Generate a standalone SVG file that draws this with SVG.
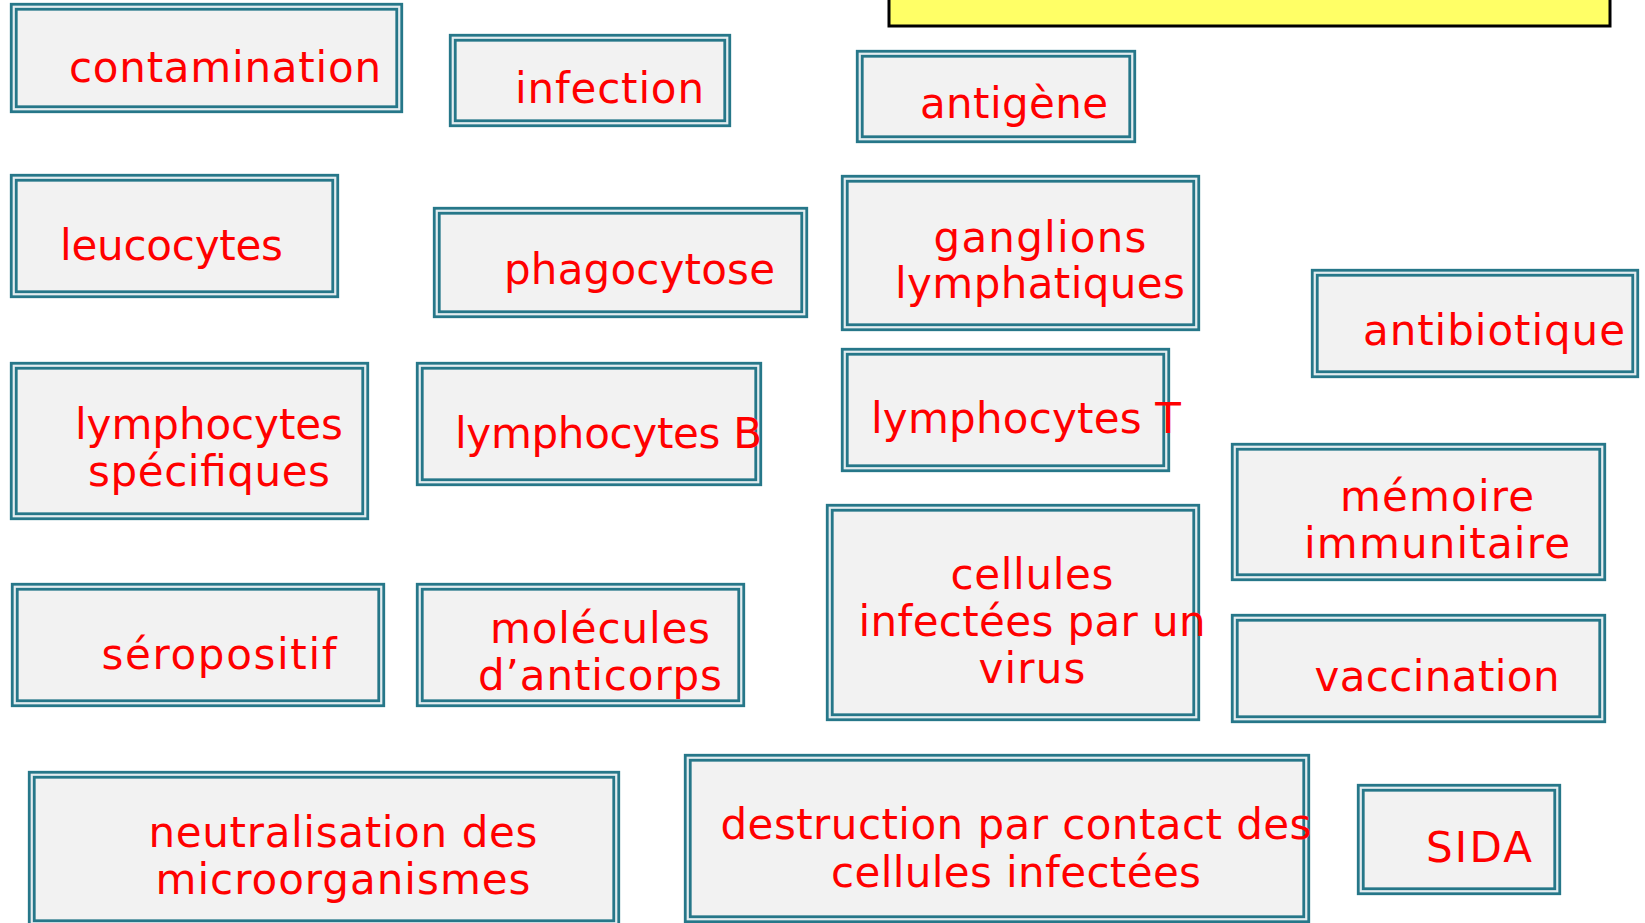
<svg xmlns="http://www.w3.org/2000/svg" width="1645" height="923" viewBox="0 0 1645 923">
<style>
.o{fill:#e4edf0;stroke:#267789;stroke-width:2.8}
.i{fill:#f2f2f2;stroke:#267789;stroke-width:2.8}
.t{font-family:"DejaVu Sans","Verdana",sans-serif;font-size:42px;fill:#ff0000;text-anchor:middle}
.s{text-anchor:start}
</style>
<rect width="1645" height="923" fill="#ffffff"/>
<g id="title-bar"><rect x="889" y="-5" width="721" height="31" fill="#ffff66" stroke="#000000" stroke-width="3"/></g>
<g id="connectors"></g>
<g id="contamination"><rect class="o" x="11.25" y="4.25" width="390.5" height="107.5"/><rect class="i" x="16.25" y="9.25" width="380.5" height="97.5"/><text class="t" x="225" y="82" textLength="312" lengthAdjust="spacing">contamination</text></g>
<g id="infection"><rect class="o" x="450.25" y="35.25" width="279.5" height="90.5"/><rect class="i" x="455.25" y="40.25" width="269.5" height="80.5"/><text class="t" x="609.5" y="103" textLength="189" lengthAdjust="spacing">infection</text></g>
<g id="antigene"><rect class="o" x="857.25" y="51.25" width="277.5" height="90.5"/><rect class="i" x="862.25" y="56.25" width="267.5" height="80.5"/><text class="t" x="1014" y="118" textLength="188" lengthAdjust="spacing">antigène</text></g>
<g id="leucocytes"><rect class="o" x="11.25" y="175.25" width="326.5" height="121.5"/><rect class="i" x="16.25" y="180.25" width="316.5" height="111.5"/><text class="t" x="171.5" y="260" textLength="223" lengthAdjust="spacing">leucocytes</text></g>
<g id="phagocytose"><rect class="o" x="434.25" y="208.25" width="372.5" height="108.5"/><rect class="i" x="439.25" y="213.25" width="362.5" height="98.5"/><text class="t" x="639.5" y="284" textLength="271" lengthAdjust="spacing">phagocytose</text></g>
<g id="ganglions"><rect class="o" x="842.25" y="176.25" width="356.5" height="153.5"/><rect class="i" x="847.25" y="181.25" width="346.5" height="143.5"/><text class="t" x="1040" y="252" textLength="213" lengthAdjust="spacing">ganglions</text><text class="t" x="1040" y="298" textLength="290" lengthAdjust="spacing">lymphatiques</text></g>
<g id="antibiotique"><rect class="o" x="1312.25" y="270.25" width="325.5" height="106.5"/><rect class="i" x="1317.25" y="275.25" width="315.5" height="96.5"/><text class="t" x="1494" y="345" textLength="262" lengthAdjust="spacing">antibiotique</text></g>
<g id="lymphocytes-specifiques"><rect class="o" x="11.25" y="363.25" width="356.5" height="155.5"/><rect class="i" x="16.25" y="368.25" width="346.5" height="145.5"/><text class="t" x="209" y="439" textLength="268" lengthAdjust="spacing">lymphocytes</text><text class="t" x="209" y="486" textLength="242" lengthAdjust="spacing">spécifiques</text></g>
<g id="lymphocytes-b"><rect class="o" x="417.25" y="363.25" width="343.5" height="121.5"/><rect class="i" x="422.25" y="368.25" width="333.5" height="111.5"/><text class="t s" x="455" y="448" textLength="307" lengthAdjust="spacing">lymphocytes B</text></g>
<g id="lymphocytes-t"><rect class="o" x="842.25" y="349.25" width="326.5" height="121.5"/><rect class="i" x="847.25" y="354.25" width="316.5" height="111.5"/><text class="t s" x="871" y="433" textLength="310" lengthAdjust="spacing">lymphocytes T</text></g>
<g id="memoire"><rect class="o" x="1232.25" y="444.25" width="372.5" height="135.5"/><rect class="i" x="1237.25" y="449.25" width="362.5" height="125.5"/><text class="t" x="1437" y="511" textLength="194" lengthAdjust="spacing">mémoire</text><text class="t" x="1437" y="558" textLength="266" lengthAdjust="spacing">immunitaire</text></g>
<g id="cellules-infectees"><rect class="o" x="827.25" y="505.25" width="371.5" height="214.5"/><rect class="i" x="832.25" y="510.25" width="361.5" height="204.5"/><text class="t" x="1032" y="589" textLength="163" lengthAdjust="spacing">cellules</text><text class="t" x="1032" y="636" textLength="347" lengthAdjust="spacing">infectées par un</text><text class="t" x="1032" y="683" textLength="107" lengthAdjust="spacing">virus</text></g>
<g id="seropositif"><rect class="o" x="12.25" y="584.25" width="371.5" height="121.5"/><rect class="i" x="17.25" y="589.25" width="361.5" height="111.5"/><text class="t" x="219" y="669" textLength="235" lengthAdjust="spacing">séropositif</text></g>
<g id="molecules"><rect class="o" x="417.25" y="584.25" width="326.5" height="121.5"/><rect class="i" x="422.25" y="589.25" width="316.5" height="111.5"/><text class="t" x="600" y="643" textLength="220" lengthAdjust="spacing">molécules</text><text class="t" x="600" y="690" textLength="244" lengthAdjust="spacing">d’anticorps</text></g>
<g id="vaccination"><rect class="o" x="1232.25" y="615.25" width="372.5" height="106.5"/><rect class="i" x="1237.25" y="620.25" width="362.5" height="96.5"/><text class="t" x="1437" y="691" textLength="245" lengthAdjust="spacing">vaccination</text></g>
<g id="neutralisation"><rect class="o" x="29.25" y="772.25" width="589.5" height="153.5"/><rect class="i" x="34.25" y="777.25" width="579.5" height="143.5"/><text class="t" x="343" y="847" textLength="389" lengthAdjust="spacing">neutralisation des</text><text class="t" x="343" y="894" textLength="375" lengthAdjust="spacing">microorganismes</text></g>
<g id="destruction"><rect class="o" x="685.25" y="755.25" width="623.5" height="166.5"/><rect class="i" x="690.25" y="760.25" width="613.5" height="156.5"/><text class="t" x="1016" y="839" textLength="591" lengthAdjust="spacing">destruction par contact des</text><text class="t" x="1016" y="887" textLength="370" lengthAdjust="spacing">cellules infectées</text></g>
<g id="sida"><rect class="o" x="1358.25" y="785.25" width="201.5" height="108.5"/><rect class="i" x="1363.25" y="790.25" width="191.5" height="98.5"/><text class="t" x="1479" y="862" textLength="106" lengthAdjust="spacing">SIDA</text></g>
</svg>
